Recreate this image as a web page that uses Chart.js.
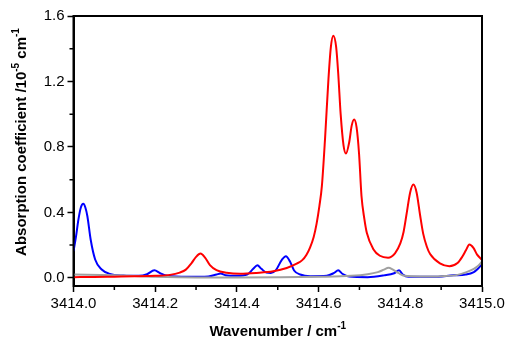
<!DOCTYPE html>
<html>
<head>
<meta charset="utf-8">
<script src="https://cdn.jsdelivr.net/npm/chart.js@4.4.1/dist/chart.umd.min.js"></script>
<style>
  html, body { margin: 0; padding: 0; background: #fff; }
  #wrap { width: 510px; height: 341px; }
</style>
</head>
<body>
<div id="wrap"><canvas id="grafico"></canvas></div>
<script>
// valores (x em cm-1, y em 10^-5 cm-1)
const redX = [3414.000, 3414.050, 3414.100, 3414.150, 3414.200, 3414.236, 3414.260, 3414.275, 3414.289, 3414.300,
  3414.311, 3414.322, 3414.334, 3414.350, 3414.375, 3414.408, 3414.448, 3414.489, 3414.522, 3414.545,
  3414.560, 3414.570, 3414.579, 3414.588, 3414.595, 3414.602, 3414.608, 3414.616, 3414.624, 3414.630,
  3414.636, 3414.643, 3414.648, 3414.654, 3414.661, 3414.667, 3414.675, 3414.681, 3414.687, 3414.693,
  3414.699, 3414.705, 3414.712, 3414.718, 3414.734, 3414.750, 3414.770, 3414.787, 3414.800, 3414.808,
  3414.816, 3414.824, 3414.832, 3414.840, 3414.848, 3414.856, 3414.865, 3414.873, 3414.897, 3414.920,
  3414.940, 3414.952, 3414.961, 3414.969, 3414.979, 3414.988, 3415.000];
const redY = [0.004, 0.005, 0.007, 0.009, 0.012, 0.018, 0.032, 0.050, 0.090, 0.128,
  0.148, 0.124, 0.078, 0.047, 0.031, 0.025, 0.030, 0.040, 0.060, 0.085,
  0.108, 0.140, 0.185, 0.250, 0.330, 0.440, 0.560, 0.860, 1.210, 1.410,
  1.480, 1.410, 1.250, 1.000, 0.810, 0.760, 0.830, 0.930, 0.967, 0.920,
  0.760, 0.500, 0.360, 0.275, 0.175, 0.135, 0.123, 0.150, 0.210, 0.280,
  0.400, 0.520, 0.570, 0.520, 0.390, 0.270, 0.190, 0.145, 0.088, 0.071,
  0.090, 0.130, 0.170, 0.203, 0.183, 0.142, 0.110];

const blueX = [3414.000, 3414.006, 3414.012, 3414.018, 3414.024, 3414.029, 3414.034, 3414.042, 3414.053, 3414.069,
  3414.089, 3414.122, 3414.160, 3414.180, 3414.198, 3414.212, 3414.230, 3414.280, 3414.330, 3414.350,
  3414.360, 3414.372, 3414.400, 3414.425, 3414.440, 3414.450, 3414.460, 3414.472, 3414.483, 3414.495,
  3414.510, 3414.520, 3414.530, 3414.540, 3414.555, 3414.580, 3414.620, 3414.638, 3414.648, 3414.658,
  3414.675, 3414.720, 3414.760, 3414.785, 3414.797, 3414.806, 3414.820, 3414.880, 3414.930, 3414.960,
  3414.980, 3414.990, 3415.000];
const blueY = [0.163, 0.250, 0.356, 0.430, 0.452, 0.430, 0.376, 0.234, 0.112, 0.051,
  0.024, 0.014, 0.012, 0.022, 0.046, 0.028, 0.012, 0.006, 0.008, 0.020,
  0.026, 0.016, 0.012, 0.020, 0.055, 0.077, 0.055, 0.032, 0.030, 0.045,
  0.110, 0.132, 0.100, 0.045, 0.020, 0.010, 0.012, 0.030, 0.046, 0.025,
  0.008, 0.004, 0.015, 0.028, 0.046, 0.020, 0.006, 0.006, 0.015, 0.020,
  0.035, 0.055, 0.085];

const grayX = [3414.000, 3414.100, 3414.200, 3414.300, 3414.400, 3414.500, 3414.600, 3414.680, 3414.720, 3414.745,
  3414.760, 3414.771, 3414.782, 3414.795, 3414.810, 3414.850, 3414.900, 3414.940, 3414.962, 3414.980,
  3414.990, 3415.000];
const grayY = [0.020, 0.015, 0.006, 0.002, 0.002, 0.003, 0.006, 0.012, 0.022, 0.035,
  0.050, 0.061, 0.050, 0.030, 0.012, 0.008, 0.010, 0.018, 0.035, 0.055,
  0.072, 0.100];

const xTicks = [3414.0, 3414.2, 3414.4, 3414.6, 3414.8, 3415.0];
const xMinor = [3414.1, 3414.3, 3414.5, 3414.7, 3414.9];
const yTicks = [0.0, 0.4, 0.8, 1.2, 1.6];
const yMinor = [0.2, 0.6, 1.0, 1.4];

function pontos(xs, ys){
    return xs.map((x, i) => ({x: x, y: ys[i]}));
}

function desenhaTexto(ctx, partes, cx, cy){
    // partes: [texto, sobrescrito?]
    const normal = 'bold 15px "Liberation Sans", Arial, sans-serif';
    const sup = 'bold 10px "Liberation Sans", Arial, sans-serif';
    let total = 0;
    partes.forEach(p => { ctx.font = p[1] ? sup : normal; total += ctx.measureText(p[0]).width; });
    let x = cx - total / 2;
    ctx.textBaseline = 'middle';
    ctx.textAlign = 'left';
    partes.forEach(p => {
        ctx.font = p[1] ? sup : normal;
        ctx.fillText(p[0], x, p[1] ? cy - 6 : cy);
        x += ctx.measureText(p[0]).width;
    });
}

const moldura = {
    id: 'moldura',
    afterDraw(chart){
        const ctx = chart.ctx;
        const a = chart.chartArea;
        const sx = chart.scales.x, sy = chart.scales.y;
        ctx.save();
        ctx.strokeStyle = '#000';
        ctx.lineWidth = 2;
        ctx.strokeRect(a.left, a.top, a.right - a.left, a.bottom - a.top);
        ctx.lineWidth = 1.5;
        ctx.beginPath();
        xMinor.forEach(v => {
            const px = sx.getPixelForValue(v);
            ctx.moveTo(px, a.bottom);
            ctx.lineTo(px, a.bottom + 4);
        });
        yMinor.forEach(v => {
            const py = sy.getPixelForValue(v);
            ctx.moveTo(a.left, py);
            ctx.lineTo(a.left - 4, py);
        });
        ctx.stroke();
        ctx.fillStyle = '#000';
        desenhaTexto(ctx, [['Wavenumber / cm', false], ['-1', true]], (a.left + a.right) / 2, 332);
        ctx.translate(22, 142);
        ctx.rotate(-Math.PI / 2);
        desenhaTexto(ctx, [['Absorption coefficient /10', false], ['-5', true], [' cm', false], ['-1', true]], 0, 0);
        ctx.restore();
    }
};

const grafico = new Chart(document.getElementById('grafico'), {
    type: 'line',
    data: {
        datasets: [{
            label: 'red',
            data: pontos(redX, redY),
            borderColor: '#ff0000',
            order: 1
        }, {
            label: 'gray',
            data: pontos(grayX, grayY),
            borderColor: '#a0a0a0',
            order: 2
        }, {
            label: 'blue',
            data: pontos(blueX, blueY),
            borderColor: '#0000ff',
            order: 3
        }]
    },
    options: {
        responsive: true,
        maintainAspectRatio: false,
        animation: false,
        layout: { padding: { left: 0, right: 28, top: 16, bottom: 0 } },
        elements: {
            point: { radius: 0 },
            line: { borderWidth: 2, cubicInterpolationMode: 'monotone', fill: false }
        },
        plugins: { legend: { display: false }, tooltip: { enabled: false } },
        scales: {
            x: {
                type: 'linear',
                min: 3414.0,
                max: 3415.0,
                afterBuildTicks: s => { s.ticks = xTicks.map(v => ({value: v})); },
                afterFit: s => { s.height = 55; },
                border: { display: true, color: '#000', width: 2 },
                grid: { drawOnChartArea: false, color: '#000', tickLength: 6, tickWidth: 1.5 },
                ticks: {
                    color: '#000',
                    padding: 3,
                    maxRotation: 0,
                    font: { family: '"Liberation Sans", Arial, sans-serif', size: 15 },
                    callback: v => v.toFixed(1)
                }
            },
            y: {
                type: 'linear',
                min: -0.05,
                max: 1.6,
                afterBuildTicks: s => { s.ticks = yTicks.map(v => ({value: v})); },
                afterFit: s => { s.width = 73.5; },
                border: { display: true, color: '#000', width: 2 },
                grid: { drawOnChartArea: false, color: '#000', tickLength: 6, tickWidth: 1.5 },
                ticks: {
                    color: '#000',
                    padding: 3,
                    font: { family: '"Liberation Sans", Arial, sans-serif', size: 15 },
                    callback: v => v.toFixed(1)
                }
            }
        }
    },
    plugins: [moldura]
});
</script>
</body>
</html>
